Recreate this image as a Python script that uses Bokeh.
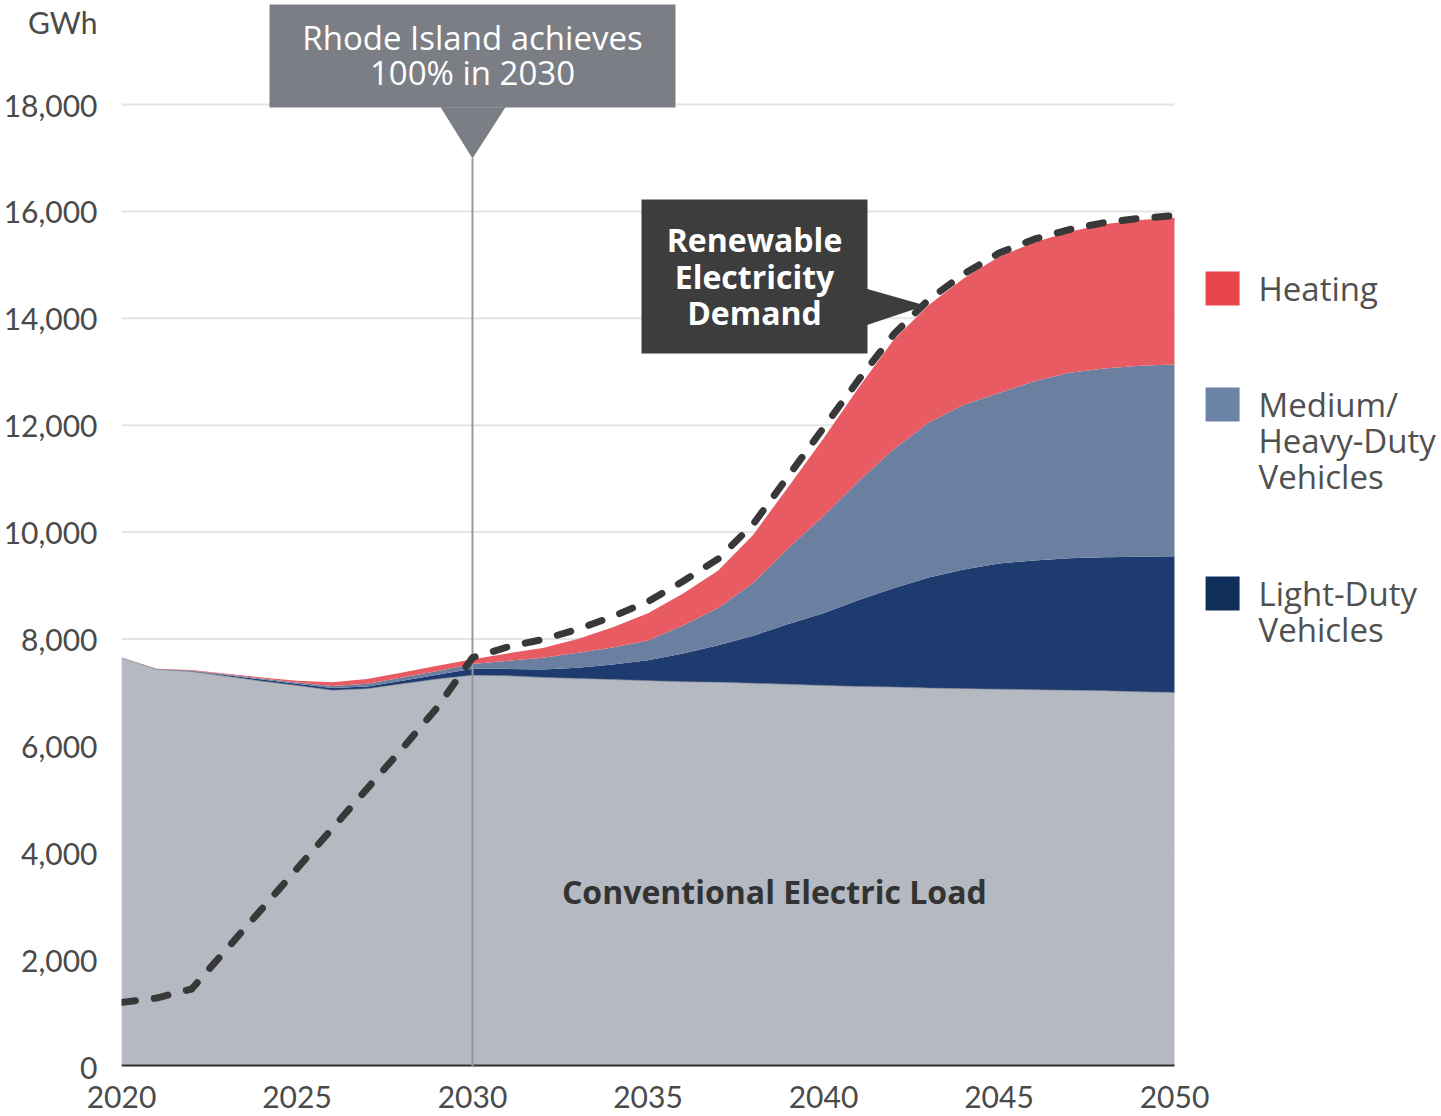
from bokeh.plotting import figure
from bokeh.models import Range1d, FixedTicker, NumeralTickFormatter, Label, ColumnDataSource
from bokeh.embed import file_html
from bokeh.resources import INLINE

# ---------------- data (GWh) ----------------
years = list(range(2020, 2051))
conventional = [7650, 7430, 7390, 7300, 7210, 7130, 7040, 7070, 7160, 7250,
                7320, 7310, 7280, 7260, 7240, 7220, 7200, 7190, 7170, 7150,
                7130, 7110, 7100, 7080, 7070, 7060, 7050, 7040, 7030, 7010, 7000]
light_duty = [0, 0, 10, 20, 30, 30, 40, 40, 60, 80,
              120, 130, 150, 200, 280, 380, 530, 690, 890, 1130,
              1350, 1620, 1850, 2070, 2230, 2350, 2420, 2470, 2500, 2530, 2545]
medium_heavy = [0, 5, 10, 15, 20, 25, 40, 50, 60, 70,
                90, 150, 220, 280, 320, 370, 520, 700, 990, 1420,
                1820, 2220, 2600, 2900, 3080, 3190, 3350, 3470, 3530, 3570, 3590]
heating = [0, 5, 10, 15, 20, 35, 70, 90, 90, 100,
           90, 140, 180, 260, 380, 510, 600, 700, 900, 1150,
           1450, 1750, 2050, 2200, 2370, 2550, 2600, 2640, 2700, 2730, 2745]
renewable_demand = [1200, 1280, 1450, 2200, 2950, 3700, 4450, 5200, 5950, 6720,
                    7650, 7850, 7990, 8180, 8420, 8700, 9080, 9500, 10150, 11050,
                    11950, 12850, 13700, 14350, 14830, 15220, 15480, 15660, 15790, 15870, 15920]

y_ticks = [0, 2000, 4000, 6000, 8000, 10000, 12000, 14000, 16000, 18000]
unit_label = "GWh"
unit_pos = 19535
x_ticks = [2020, 2025, 2030, 2035, 2040, 2045, 2050]
legend_labels = ["Heating", "Medium/\nHeavy-Duty\nVehicles", "Light-Duty\nVehicles"]
legend_colors = ["#e8454d", "#6c84a8", "#0f2e5a"]

C_GRAY = "#b5b9c1"
C_LDV = "#1d3b6f"
C_MHD = "#6b80a1"
C_HEAT = "#e95b62"
TICK_FONT = "Lato"
FONT = "Open Sans"

src = ColumnDataSource(dict(year=years, conv=conventional, ldv=light_duty,
                            mhd=medium_heavy, heat=heating, dash=renewable_demand))

p = figure(width=1441, height=1116, output_backend="svg", toolbar_location=None,
           x_range=Range1d(2020, 2057.607), y_range=Range1d(0, 19946))
p.min_border_left = 121
p.min_border_right = 0
p.min_border_top = 0
p.min_border_bottom = 50
p.outline_line_color = None
p.xgrid.visible = False
p.ygrid.visible = False
p.background_fill_color = "white"
p.border_fill_color = "white"

# grid lines (only over the data span)
grid_vals = y_ticks[1:]
p.segment(x0=[2020] * len(grid_vals), x1=[2050] * len(grid_vals), y0=grid_vals, y1=grid_vals,
          line_color="#e4e4e4", line_width=2)

# stacked areas
p.varea_stack(["conv", "ldv", "mhd", "heat"], x="year", source=src,
              color=[C_GRAY, C_LDV, C_MHD, C_HEAT])

# thin outline along the top of the conventional load
p.line(x="year", y="conv", source=src, line_color="#7d8290", line_width=1, line_alpha=0.6)

# baseline
p.segment(x0=[2020], x1=[2050], y0=[0], y1=[0], line_color="#333333", line_width=4)

# 2030 marker line + callout
p.segment(x0=[2030], x1=[2030], y0=[0], y1=[16990], line_color="#939aa3", line_width=2)
p.quad(left=[2024.217], right=[2035.783], bottom=[17944], top=[19871],
       fill_color="#7b7e84", line_color=None)
p.patch(x=[2029.09, 2030.94, 2030.0], y=[17950, 17950, 16990],
        fill_color="#7b7e84", line_color=None)

# dashed renewable electricity demand
p.line(x="year", y="dash", source=src, line_color="#383838", line_width=7,
       line_dash="14 19", line_cap="round", line_join="round")

# renewable callout
p.quad(left=[2034.815], right=[2041.254], bottom=[13341], top=[16223],
       fill_color="#3d3d3d", line_color=None)
p.patch(x=[2041.2, 2041.2, 2042.906], y=[14557, 13865, 14239],
        fill_color="#3d3d3d", line_color=None)

# axes
p.yaxis.ticker = FixedTicker(ticks=y_ticks + [unit_pos])
p.yaxis.formatter = NumeralTickFormatter(format="0,0")
p.yaxis.major_label_overrides = {unit_pos: unit_label}
p.xaxis.ticker = FixedTicker(ticks=x_ticks)
for ax in (p.xaxis[0], p.yaxis[0]):
    ax.axis_line_color = None
    ax.major_tick_line_color = None
    ax.minor_tick_line_color = None
    ax.major_tick_out = 0
    ax.major_tick_in = 0
    ax.minor_tick_out = 0
    ax.minor_tick_in = 0
    ax.major_label_text_font = TICK_FONT
    ax.major_label_text_font_size = "30px"
    ax.major_label_text_color = "#4a4a4a"
p.yaxis.major_label_standoff = 24
p.xaxis.major_label_standoff = 19

def add_label(x, y, text, size, color, style="normal", align="center", baseline="middle"):
    p.add_layout(Label(x=x, y=y, text=text, text_font=FONT, text_font_size=size,
                       text_color=color, text_font_style=style, text_align=align,
                       text_baseline=baseline))

# callout texts
add_label(2030.0, 19254, "Rhode Island achieves", "33px", "white")
add_label(2030.0, 18599, "100% in 2030", "33px", "white")
for yv, t in zip([15475, 14782, 14108], ["Renewable", "Electricity", "Demand"]):
    add_label(2038.034, yv, t, "32px", "white", "bold")

add_label(2038.60, 3274, "Conventional Electric Load", "32px", "#333333", "bold")

# legend
sq_y = [14557, 12387, 8851]
p.scatter(x=[2051.37] * 3, y=sq_y, marker="square", size=34, color=legend_colors, line_color=None)
line_step = 673
for yv, lab in zip(sq_y, legend_labels):
    for i, part in enumerate(lab.split("\n")):
        add_label(2052.393, yv - i * line_step, part, "33px", "#505050", align="left")

open("out.html", "w").write(file_html(p, INLINE))
